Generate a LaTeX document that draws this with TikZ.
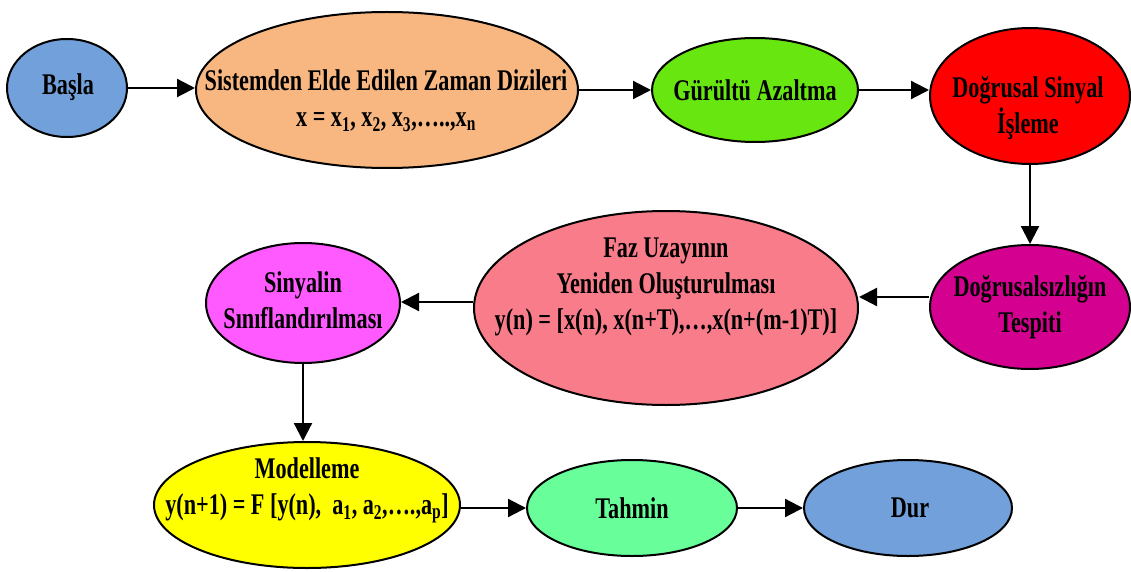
\documentclass[tikz,border=0pt]{standalone}
\usepackage{fontspec}
\setmainfont{Liberation Serif}[FakeStretch=0.74]
\usetikzlibrary{arrows.meta,shapes.geometric}
\definecolor{cBlue}{RGB}{114,160,218}
\definecolor{cPeach}{RGB}{248,183,128}
\definecolor{cLime}{RGB}{104,230,16}
\definecolor{cRed}{RGB}{255,0,0}
\definecolor{cMag}{RGB}{212,0,144}
\definecolor{cPink}{RGB}{248,124,138}
\definecolor{cViolet}{RGB}{255,90,255}
\definecolor{cYellow}{RGB}{255,255,0}
\definecolor{cMint}{RGB}{104,255,154}
\begin{document}
\begin{tikzpicture}[x=1pt,y=-1pt,
  el/.style={ellipse, draw=black, line width=2pt, inner sep=0pt},
  txt/.style={font=\bfseries\fontsize{30}{36}\selectfont, align=center, inner sep=0pt},
  arr/.style={line width=2.2pt, -{Triangle[length=18pt,width=18pt]}}]
\useasboundingbox (0,0) rectangle (1131,572);
% ellipses
\node[el, fill=cBlue,   minimum width=120pt, minimum height=98pt]  (basla) at (67,88) {};
\node[el, fill=cPeach,  minimum width=382pt, minimum height=156pt] (sis)   at (387,90) {};
\node[el, fill=cLime,   minimum width=206pt, minimum height=104pt] (gur)   at (755,90) {};
\node[el, fill=cRed,    minimum width=200pt, minimum height=136pt] (dog)   at (1030,96) {};
\node[el, fill=cMag,    minimum width=200pt, minimum height=124pt] (dsz)   at (1030,307) {};
\node[el, fill=cPink,   minimum width=384pt, minimum height=194pt] (faz)   at (666,308) {};
\node[el, fill=cViolet, minimum width=194pt, minimum height=120pt] (sin)   at (303,303) {};
\node[el, fill=cYellow, minimum width=306pt, minimum height=126pt] (mod)   at (307,505) {};
\node[el, fill=cMint,   minimum width=210pt, minimum height=96pt]  (tah)   at (632,508) {};
\node[el, fill=cBlue,   minimum width=208pt, minimum height=96pt]  (dur)   at (908,508) {};
% texts
\node[txt] (baslat) at (68,87) {Başla};
\node[txt] (sist) at (386,101) {Sistemden Elde Edilen Zaman Dizileri\\
  x = x\textsubscript{1}, x\textsubscript{2}, x\textsubscript{3},…..,x\textsubscript{n}};
\node[txt] (gurt) at (755,90) {Gürültü Azaltma};
\node[txt] (dogt) at (1028,108) {Doğrusal Sinyal\\İşleme};
\node[txt] (dszt) at (1030,307) {Doğrusalsızlığın\\Tespiti};
\node[txt] (fazt) at (666,287) {Faz Uzayının\\Yeniden Oluşturulması\\y(n) = [x(n), x(n+T),…,x(n+(m-1)T)]};
\node[txt] (sint) at (303,300) {Sinyalin\\Sınıflandırılması};
\node[txt] (modt) at (307,490) {Modelleme\\y(n+1) = F [y(n),\ \ a\textsubscript{1}, a\textsubscript{2},….,a\textsubscript{p}]};
\node[txt] (taht) at (632,508) {Tahmin};
\node[txt] (durt) at (910,508) {Dur};
% arrows
\draw[arr] (basla.east) -- (basla.east -| sis.west);
\draw[arr] (sis.east) -- (gur.west);
\draw[arr] (gur.east) -- (gur.east -| dog.west);
\draw[arr] (dog.south) -- (dsz.north);
\draw[arr] ([yshift=10pt]dsz.west) -- ([yshift=10pt]dsz.west -| faz.east);
\draw[arr] ([yshift=6pt]faz.west) -- ([yshift=6pt]faz.west -| sin.east);
\draw[arr] (sin.south) -- (sin.south |- mod.north);
\draw[arr] (mod.east |- tah.west) -- (tah.west);
\draw[arr] (tah.east) -- (dur.west);
\end{tikzpicture}
\end{document}
